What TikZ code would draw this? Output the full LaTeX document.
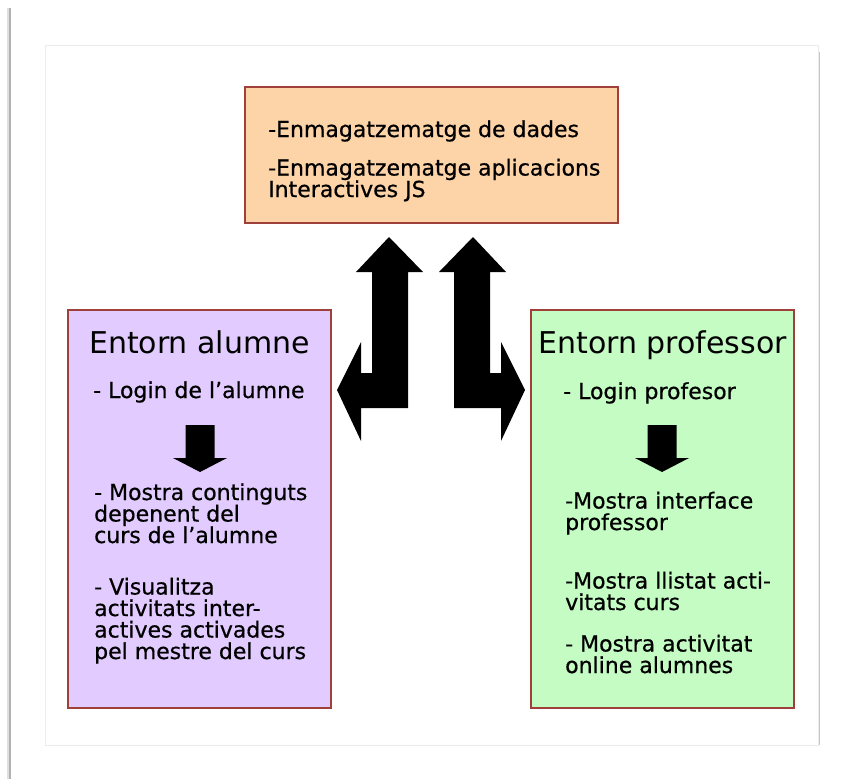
\documentclass[tikz,border=0pt]{standalone}
\usepackage{fontspec}
\setmainfont{DejaVu Sans}
\newfontfamily\gruixut[FakeBold=0.6]{DejaVu Sans}
\usetikzlibrary{positioning}

\definecolor{dadesfons}{RGB}{253,211,168}
\definecolor{alumnefons}{RGB}{226,204,255}
\definecolor{proffons}{RGB}{196,252,196}
\definecolor{vora}{RGB}{160,64,58}

\begin{document}
\begin{tikzpicture}[x=1pt, y=-1pt,
    % boxes and texts (a text node sits on the baseline of its last line)
    caixa/.style={draw=vora, line width=1.5pt, minimum width=#1, inner sep=0pt},
    titol/.style={anchor=base, inner sep=0pt, font=\fontsize{30}{36}\selectfont},
    linia/.style={anchor=base west, inner sep=0pt, align=left, font=\gruixut\fontsize{22}{21.5}\selectfont},
    fletxa/.style={fill=black}]
  \useasboundingbox (0,0) rectangle (845,779);

  % page edge and frame
  \draw[gray!25, line width=3pt] (8,8) -- (8,779);
  \draw[gray!60, line width=1.5pt] (10,8) -- (10,779);
  \draw[gray!15] (45,45) rectangle (818,745);
  \draw[gray!45] (819,52) -- (819,745);

  % The three boxes
  \node[caixa=373pt, minimum height=136pt, fill=dadesfons] (dades) at (431.5,155) {};
  \node[caixa=263pt, minimum height=398pt, fill=alumnefons] (alumne) at (199.5,509) {};
  \node[caixa=263pt, minimum height=398pt, fill=proffons] (professor) at (662.5,509) {};

  % storage texts
  \node[linia] (dadesText1) at (268,137) {-Enmagatzematge de dades};
  \node[linia] (dadesText2) at (268,197) {-Enmagatzematge aplicacions\\Interactives JS};

  % student texts
  \node[titol] (alumneTitol) at (199.5,353) {Entorn alumne};
  \node[linia] (alumneLogin) at (93,398) {- Login de l’alumne};
  \node[linia] (alumneMostra) at (94,543) {- Mostra continguts\\depenent del\\curs de l’alumne};
  \node[linia] (alumneVisual) at (94,659) {- Visualitza\\activitats inter-\\actives activades\\pel mestre del curs};

  % teacher texts
  \node[titol] (profTitol) at (662.5,353) {Entorn professor};
  \node[linia] (profLogin) at (563,399) {- Login profesor};
  \node[linia] (profInterface) at (565,530) {-Mostra interface\\professor};
  \node[linia] (profLlistat) at (565,610) {-Mostra llistat acti-\\vitats curs};
  \node[linia] (profActivitat) at (565,673) {- Mostra activitat\\online alumnes};

  % small down arrows
  \foreach \x in {200,662}
    \fill[fletxa] (\x-14.5,425) -- (\x+14.5,425) -- (\x+14.5,458) -- (\x+27,458)
      -- (\x,472) -- (\x-27,458) -- (\x-14.5,458) -- cycle;

  % big bent arrows, one mirrored
  \foreach \s in {1,-1}
    \fill[fletxa, shift={(431,0)}, xscale=\s] (-42,237) -- (-8,272) -- (-23,272)
      -- (-23,408) -- (-70,408) -- (-70,441) -- (-94,390) -- (-70,342) -- (-70,373)
      -- (-59,373) -- (-59,272) -- (-75,272) -- cycle;
\end{tikzpicture}
\end{document}
